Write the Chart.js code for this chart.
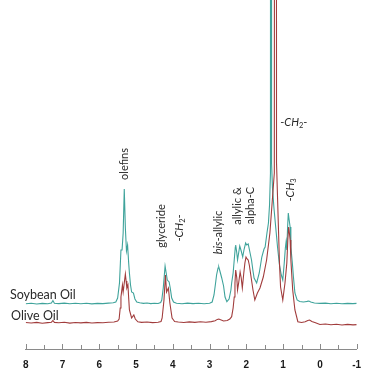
<!DOCTYPE html>
<html>
<head>
<meta charset="utf-8">
<script src="https://cdn.jsdelivr.net/npm/chart.js@4.4.1/dist/chart.umd.min.js"></script>
<style>
html,body{margin:0;padding:0;background:#fff;}
#wrap{width:375px;height:387px;}
</style>
</head>
<body>
<div id="wrap"><canvas id="c" width="375" height="387"></canvas></div>
<script>
// ---- data: chemical shift (ppm) and intensity (a.u.) ----
const soyPpm = [8.00,7.85,7.70,7.55,7.40,7.30,7.26,7.22,7.10,6.95,6.80,6.65,6.50,6.35,6.20,6.05,5.90,5.75,5.62,5.55,5.50,5.45,5.41,5.38,5.35,5.32,5.29,5.26,5.23,5.20,5.18,5.15,5.12,5.07,5.03,4.98,4.90,4.80,4.70,4.60,4.50,4.40,4.33,4.30,4.26,4.21,4.18,4.15,4.10,4.07,4.03,3.98,3.90,3.75,3.60,3.45,3.30,3.15,3.00,2.93,2.88,2.83,2.81,2.77,2.75,2.72,2.67,2.62,2.58,2.53,2.47,2.42,2.40,2.36,2.33,2.30,2.29,2.26,2.24,2.21,2.18,2.14,2.10,2.06,2.02,1.99,1.95,1.91,1.86,1.82,1.79,1.72,1.65,1.58,1.52,1.49,1.44,1.40,1.37,1.345,1.33,1.315,1.29,1.25,1.20,1.15,1.10,1.05,1.01,0.97,0.94,0.92,0.90,0.88,0.86,0.84,0.81,0.79,0.75,0.72,0.68,0.62,0.55,0.50,0.45,0.40,0.35,0.30,0.25,0.15,0.00,-0.15,-0.30,-0.45,-0.60,-0.75,-0.90,-1.00];
const soyInt = [19.2,19.8,19.0,19.6,19.3,20.0,22.5,19.8,19.4,19.9,19.2,19.7,19.3,19.8,19.1,19.6,19.4,19.9,20.3,21,25,40,73,73,90,134,95,72,78,60,50,38,31,30,24,21,20.2,19.6,20.0,19.4,19.8,19.5,20.5,23,35,57,50,43,41,35,25,21,19.8,19.3,19.9,19.4,19.7,19.2,19.8,21,28,42,48,55,56,52,45,37,26,21.3,24,33,40,50,63,76,78,70,63,70,77,72,66,74,80,78,79,72,63,52,45,40,50,66,74,76,90,100,118,150,3000,160,135,115,95,75,58,48,43,60,75,81,73,95,110,104,96,76,60,46,30,23,21.5,21.3,21.0,21.3,21.6,22.0,21.0,20.0,19.6,19.9,19.3,19.7,19.2,19.6,19.4,19.6];

const olivePpm = [8.00,7.85,7.70,7.55,7.40,7.30,7.26,7.22,7.10,6.95,6.80,6.65,6.50,6.35,6.20,6.05,5.90,5.75,5.60,5.50,5.46,5.43,5.41,5.37,5.35,5.32,5.29,5.27,5.25,5.22,5.20,5.18,5.12,5.06,5.02,4.95,4.85,4.70,4.55,4.40,4.32,4.29,4.24,4.20,4.17,4.12,4.08,4.02,3.95,3.85,3.70,3.55,3.40,3.25,3.10,2.95,2.85,2.79,2.75,2.70,2.62,2.52,2.45,2.40,2.36,2.33,2.31,2.29,2.26,2.24,2.21,2.17,2.14,2.11,2.07,2.04,2.01,1.98,1.95,1.92,1.90,1.82,1.77,1.70,1.63,1.54,1.45,1.36,1.30,1.24,1.20,1.18,1.14,1.10,1.07,1.01,0.95,0.90,0.87,0.85,0.83,0.81,0.79,0.74,0.68,0.60,0.50,0.40,0.33,0.28,0.22,0.12,0.00,-0.15,-0.30,-0.45,-0.60,-0.75,-0.90,-1.00];
const oliveInt = [0.5,0.0,0.6,-0.2,0.4,0.8,2.5,0.6,0.2,0.7,-0.1,0.5,0.1,0.6,0.0,0.4,0.2,0.7,1.0,2,4,15,26,38,31,40,49,42,35,38,25,13,5,8,4,1.2,0.6,1.0,0.4,0.8,1.5,5,23,48,31,35,20,5,1.5,1.0,0.5,1.1,0.6,1.2,0.7,1.4,2.2,3.6,4.0,3.2,2.0,2.5,4,6.3,15,26,40,53,45,33,40,51,45,35,50,60,66,64,63,58,53,33,23,30,35,46,63,90,120,150,3000,160,110,60,36,23,40,60,85,96,90,83,63,33,13,1.3,0.5,1.2,2.5,3.0,1.5,0.2,-1.5,-1.0,-1.8,-1.2,-2.0,-1.4,-1.9,-1.6];

const xTickMin = -1, xTickMax = 8, xTickStep = 0.5;

// annotation labels ("*" toggles italic, "_" makes the next character a subscript)
const labelText  = ["olefins","glyceride","-*CH*_2-","*bis*-allylic","allylic &","alpha-C","-*CH*_3","-*CH*_2-","Soybean Oil","Olive Oil"];
const labelPpm   = [5.32, 4.32, 3.83, 2.77, 2.23, 1.90, 0.81, 0.71, 8.43, 8.40];
const labelValue = [159, 97, 95, 90.5, 117, 117.5, 133, 201, 28, 7];
const labelRotated = [true,true,true,true,true,true,true,false,false,false];
const labelAlign = ["center","center","center","center","center","center","center","center","left","left"];
const labelSize  = [11,11,11,11,11,11,11,11,12.5,12.5];

const TEAL = '#3fa39b';
const RED  = '#a13c3c';
const FONT = 'Lato, "Open Sans", sans-serif';

function toPoints(xs, ys){ return xs.map((x,i)=>({x:x, y:ys[i]})); }

function parseRuns(str){
  const runs=[]; let italic=false; let i=0;
  while(i<str.length){
    const ch=str[i];
    if(ch==='*'){ italic=!italic; i++; continue; }
    if(ch==='_'){ runs.push({t:str[i+1], italic:false, sub:true}); i+=2; continue; }
    const last=runs[runs.length-1];
    if(last && !last.sub && last.italic===italic){ last.t+=ch; }
    else runs.push({t:ch, italic:italic, sub:false});
    i++;
  }
  return runs;
}
function fontFor(run,size){
  const s = run.sub ? size*0.68 : size;
  return (run.italic?'italic ':'') + s + 'px ' + FONT;
}

const labelPlugin = {
  id:'labels',
  afterDatasetsDraw(chart){
    const ctx=chart.ctx, xs=chart.scales.x, ys=chart.scales.y;
    ctx.save();
    ctx.fillStyle='#2a2a2a';
    ctx.textBaseline='middle';
    ctx.textAlign='left';
    labelText.forEach((txt,k)=>{
      const px=xs.getPixelForValue(labelPpm[k]);
      const py=ys.getPixelForValue(labelValue[k]);
      const size=labelSize[k];
      const runs=parseRuns(txt);
      let total=0;
      runs.forEach(r=>{ ctx.font=fontFor(r,size); r.w=ctx.measureText(r.t).width; total+=r.w; });
      ctx.save();
      ctx.translate(px,py);
      if(labelRotated[k]) ctx.rotate(-Math.PI/2);
      let cx = labelAlign[k]==='left' ? 0 : -total/2;
      runs.forEach(r=>{
        ctx.font=fontFor(r,size);
        ctx.fillText(r.t, cx, r.sub ? size*0.3 : 0);
        cx+=r.w;
      });
      ctx.restore();
    });
    ctx.restore();
  }
};

const tickPlugin = {
  id:'innerTicks',
  afterDraw(chart){
    const ctx=chart.ctx, xs=chart.scales.x, area=chart.chartArea;
    ctx.save();
    ctx.strokeStyle='#8a8a8a';
    ctx.lineWidth=1;
    xs.ticks.forEach(t=>{
      const px=Math.round(xs.getPixelForValue(t.value))+0.5;
      const len = Number.isInteger(t.value) ? 5 : 4;
      ctx.beginPath();
      ctx.moveTo(px, area.bottom);
      ctx.lineTo(px, area.bottom-len);
      ctx.stroke();
    });
    ctx.restore();
  }
};

new Chart(document.getElementById('c'), {
  type:'line',
  data:{
    datasets:[
      {label:'Olive Oil', data:toPoints(olivePpm, oliveInt), borderColor:RED, borderWidth:1.1, pointRadius:0, tension:0, fill:false},
      {label:'Soybean Oil', data:toPoints(soyPpm, soyInt), borderColor:TEAL, borderWidth:1.1, pointRadius:0, tension:0, fill:false}
    ]
  },
  options:{
    responsive:false,
    animation:false,
    layout:{padding:{left:25.7, right:18.3, top:0, bottom:16}},
    plugins:{legend:{display:false}, tooltip:{enabled:false}},
    scales:{
      x:{
        type:'linear', reverse:true, min:xTickMin, max:xTickMax,
        grid:{display:false, drawTicks:false, tickLength:0},
        border:{display:true, color:'#8a8a8a', width:1},
        afterFit:(s)=>{ s.height = 22; },
        ticks:{
          stepSize:xTickStep, autoSkip:false, maxRotation:0, minRotation:0, padding:10,
          color:'#1a1a1a', font:{family:'"Liberation Sans", Arial, sans-serif', size:10, weight:'bold'},
          callback:(v)=> Number.isInteger(v) ? String(v) : ''
        }
      },
      y:{ display:false, min:-26, max:323 }
    }
  },
  plugins:[labelPlugin, tickPlugin]
});
</script>
</body>
</html>
